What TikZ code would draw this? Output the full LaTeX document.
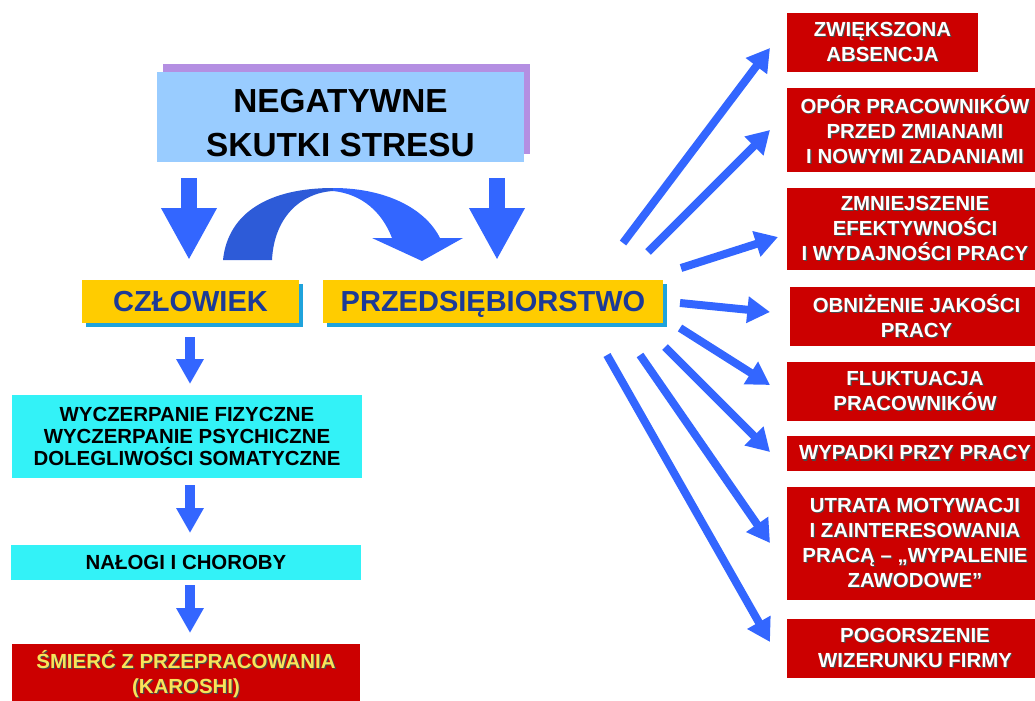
\documentclass[tikz,border=0pt]{standalone}
\usepackage{fontspec}
\setmainfont{Liberation Sans}
\usetikzlibrary{arrows.meta,shadows}
\definecolor{topblue}{HTML}{99CCFF}
\definecolor{toppurple}{HTML}{B48FE2}
\definecolor{ybox}{HTML}{FFCC00}
\definecolor{yshadow}{HTML}{1FA3DC}
\definecolor{navytext}{HTML}{1C3A96}
\definecolor{cyanbox}{HTML}{33F2F7}
\definecolor{redbox}{HTML}{CC0000}
\definecolor{arrowblue}{HTML}{3366FF}
\definecolor{arcdark}{HTML}{2D5BD8}
\definecolor{ytext}{HTML}{F7E45A}
\newcommand{\shw}[1]{\leavevmode\rlap{\kern0.9pt\raisebox{-0.9pt}{\textcolor{black!70}{#1}}}#1}
\begin{document}
\begin{tikzpicture}[x=0.75pt,y=-0.75pt,
  boxbase/.style={inner sep=0pt, align=center},
  redb/.style={boxbase, fill=redbox, text=white, font=\bfseries\fontsize{15.3}{18.75}\selectfont},
  cyanb/.style={boxbase, fill=cyanbox, text=black, font=\bfseries\fontsize{15.3}{16.3}\selectfont, minimum width=262.5pt},
  yelb/.style={boxbase, fill=ybox, text=navytext, font=\bfseries\fontsize{21.75}{26}\selectfont, minimum height=32.25pt,
     text height=15.6pt, text depth=0pt,
     drop shadow={shadow xshift=3pt, shadow yshift=-3pt, fill=yshadow, opacity=1}},
  fanarr/.style={draw=arrowblue, line width=6pt, -{Triangle[length=17pt,width=19pt]}},
  downarr/.style={draw=arrowblue, line width=7.5pt, -{Triangle[length=18.75pt,width=19.5pt]}},
  bigarr/.style={draw=arrowblue, line width=12pt, -{Triangle[length=39pt,width=39pt]}}]
\useasboundingbox (0,0) rectangle (1035,700);

% top box
\node[boxbase, fill=topblue, minimum width=275.25pt, minimum height=67.5pt,
  drop shadow={shadow xshift=4.5pt, shadow yshift=6pt, fill=toppurple, opacity=1}] (top) at (340.5,117) {};
\node[boxbase, font=\bfseries\fontsize{25}{33}\selectfont] (toptxt) at (340.5,123) {NEGATYWNE\\SKUTKI STRESU};

% yellow boxes
\node[yelb, minimum width=162.75pt] (czl) at (190.5,301.5) {CZŁOWIEK};
\node[yelb, minimum width=255pt] (prz) at (493,301.5) {PRZEDSIĘBIORSTWO};

% big down arrows
\coordinate (bl1) at (189,178); \coordinate (bl2) at (189,260);
\coordinate (br1) at (497,178); \coordinate (br2) at (497,260);
\draw[bigarr] (bl1) -- (bl2);
\draw[bigarr] (br1) -- (br2);

% curved arrow
\fill[arcdark] (223,260) .. controls (228,212) and (270,188) .. (333,188)
  -- (333,191) .. controls (300,193) and (274,218) .. (272,260) -- cycle;
\fill[arrowblue] (333,188) .. controls (385,188) and (425,208) .. (440,238)
  -- (463,238) -- (422,261) -- (372,238) -- (392,238)
  .. controls (382,212) and (362,194) .. (333,191) -- cycle;

% left column
\node[cyanb, minimum height=62.25pt] (wyc) at (187,436.5)
  {WYCZERPANIE FIZYCZNE\\WYCZERPANIE PSYCHICZNE\\DOLEGLIWOŚCI SOMATYCZNE};
\node[cyanb, minimum height=26.25pt] (nal) at (186,562.5) {NAŁOGI I CHOROBY};
\node[boxbase, fill=redbox, text=ytext, font=\bfseries\fontsize{15.3}{18.75}\selectfont,
  minimum width=261pt, minimum height=46.5pt] (smi) at (186,674.5)
  {\shw{ŚMIERĆ Z PRZEPRACOWANIA}\\\shw{(KAROSHI)}};

\coordinate (a1s) at (190,337); \coordinate (a1e) at (190,384);
\coordinate (a2s) at (190,485); \coordinate (a2e) at (190,533);
\coordinate (a3s) at (190,585); \coordinate (a3e) at (190,633);
\draw[downarr] (a1s) -- (a1e);
\draw[downarr] (a2s) -- (a2e);
\draw[downarr] (a3s) -- (a3e);

% right column boxes
\node[redb, minimum width=143.25pt, minimum height=44.25pt] (r1) at (882.5,42.5)
  {\shw{ZWIĘKSZONA}\\\shw{ABSENCJA}};
\node[redb, minimum width=192pt, minimum height=63pt] (r2) at (915,130)
  {\shw{OPÓR PRACOWNIKÓW}\\\shw{PRZED ZMIANAMI}\\\shw{I NOWYMI ZADANIAMI}};
\node[redb, minimum width=192pt, minimum height=61.5pt] (r3) at (915,229)
  {\shw{ZMNIEJSZENIE}\\\shw{EFEKTYWNOŚCI}\\\shw{I WYDAJNOŚCI PRACY}};
\node[redb, minimum width=189.75pt, minimum height=44.25pt] (r4) at (916.5,316.5)
  {\shw{OBNIŻENIE JAKOŚCI}\\\shw{PRACY}};
\node[redb, minimum width=192pt, minimum height=44.25pt] (r5) at (915,391.5)
  {\shw{FLUKTUACJA}\\\shw{PRACOWNIKÓW}};
\node[redb, minimum width=192pt, minimum height=26.25pt] (r6) at (915,453.5)
  {\shw{WYPADKI PRZY PRACY}};
\node[redb, minimum width=192pt, minimum height=84.75pt] (r7) at (915,543.5)
  {\shw{UTRATA MOTYWACJI}\\\shw{I ZAINTERESOWANIA}\\\shw{PRACĄ – „WYPALENIE}\\\shw{ZAWODOWE”}};
\node[redb, minimum width=192pt, minimum height=44.25pt] (r8) at (915,648.5)
  {\shw{POGORSZENIE}\\\shw{WIZERUNKU FIRMY}};

% fan arrows
\coordinate (f1s) at (623,243); \coordinate (f1e) at (770,48);
\coordinate (f2s) at (648,252); \coordinate (f2e) at (770,130);
\coordinate (f3s) at (681,268); \coordinate (f3e) at (778,237);
\coordinate (f4s) at (680,303); \coordinate (f4e) at (770,312);
\coordinate (f5s) at (680,328); \coordinate (f5e) at (770,385);
\coordinate (f6s) at (665,347); \coordinate (f6e) at (770,452);
\coordinate (f7s) at (640,355); \coordinate (f7e) at (770,543);
\coordinate (f8s) at (607,355); \coordinate (f8e) at (770,642);
\foreach \i in {1,...,8} {\draw[fanarr] (f\i s) -- (f\i e);}
\end{tikzpicture}
\end{document}
